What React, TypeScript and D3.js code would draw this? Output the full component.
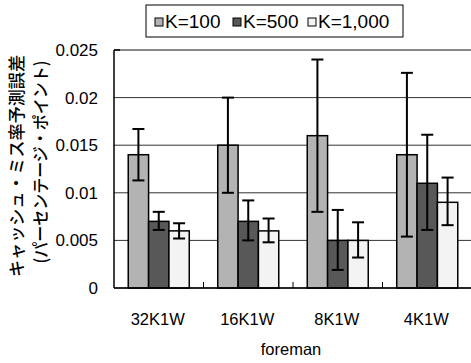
import React from "react";
import * as d3 from "d3";

const categories = ["32K1W", "16K1W", "8K1W", "4K1W"];
const seriesNames = ["K=100", "K=500", "K=1,000"];
const seriesColors = ["#b3b3b3", "#585858", "#f3f3f3"];
const valuesK100 = [0.014, 0.015, 0.016, 0.014];
const valuesK500 = [0.007, 0.007, 0.005, 0.011];
const valuesK1000 = [0.006, 0.006, 0.005, 0.009];
const errLowK100 = [0.0113, 0.01, 0.008, 0.0054];
const errHighK100 = [0.0167, 0.02, 0.024, 0.0226];
const errLowK500 = [0.0061, 0.005, 0.0019, 0.0061];
const errHighK500 = [0.008, 0.0092, 0.0082, 0.0161];
const errLowK1000 = [0.0052, 0.0048, 0.0032, 0.0066];
const errHighK1000 = [0.0068, 0.0073, 0.0069, 0.0116];
const yTicks = [0, 0.005, 0.01, 0.015, 0.02, 0.025];
const yTickLabels = ["0", "0.005", "0.01", "0.015", "0.02", "0.025"];

const W = 471, H = 363;
const left = 114, right = 472, top = 50, bottom = 288;

export default function App() {
  const x = d3.scaleBand().domain(categories).range([left, right]).paddingInner(0).paddingOuter(0);
  const inner = d3.scaleBand().domain(seriesNames).range([0, x.bandwidth()]).paddingInner(0).paddingOuter(0.7);
  const y = d3.scaleLinear().domain([0, 0.025]).range([bottom, top]);
  const vals = [valuesK100, valuesK500, valuesK1000];
  const lows = [errLowK100, errLowK500, errLowK1000];
  const highs = [errHighK100, errHighK500, errHighK1000];
  const font = "'Liberation Sans', Arial, sans-serif";
  const legendX = [155, 233, 308];
  return (
    <div style={{ position: "fixed", left: 0, top: 0 }}>
      <svg width={W} height={H} style={{ display: "block", background: "#fff" }}>
        {yTicks.map((t, i) => (
          <line key={"g" + i} x1={left} x2={right} y1={y(t)} y2={y(t)}
            stroke={t === 0.025 ? "#888" : "#333"} strokeWidth={t === 0.025 ? 2 : 1} />
        ))}
        <line x1={left} x2={left} y1={top} y2={bottom} stroke="#000" strokeWidth={1.5} />
        <line x1={left} x2={left + 6} y1={top} y2={top} stroke="#000" strokeWidth={1.5} />
        {yTicks.map((t, i) => (
          <text key={"yl" + i} x={98} y={y(t) + 6} textAnchor="end" fontFamily={font} fontSize={17} fill="#000">
            {yTickLabels[i]}
          </text>
        ))}
        {categories.slice(1).map((c) => (
          <line key={"xt" + c} x1={x(c)!} x2={x(c)!} y1={bottom} y2={bottom - 6} stroke="#000" strokeWidth={1} />
        ))}
        {categories.map((c, ci) =>
          seriesNames.map((s, si) => {
            const bx = x(c)! + inner(s)!;
            const bw = inner.bandwidth();
            const v = vals[si][ci];
            return (
              <rect key={c + s} x={bx} y={y(v)} width={bw} height={bottom - y(v)}
                fill={seriesColors[si]} stroke="#000" strokeWidth={1.5} />
            );
          })
        )}
        <line x1={left} x2={right} y1={bottom} y2={bottom} stroke="#000" strokeWidth={1.5} />
        {categories.map((c, ci) =>
          seriesNames.map((s, si) => {
            const cx = x(c)! + inner(s)! + inner.bandwidth() / 2;
            const lo = y(lows[si][ci]);
            const hi = y(highs[si][ci]);
            return (
              <g key={"e" + c + s} stroke="#000" strokeWidth={2}>
                <line x1={cx} x2={cx} y1={lo} y2={hi} />
                <line x1={cx - 6} x2={cx + 6} y1={lo} y2={lo} />
                <line x1={cx - 6} x2={cx + 6} y1={hi} y2={hi} />
              </g>
            );
          })
        )}
        {categories.map((c) => (
          <text key={"xl" + c} x={x(c)! + x.bandwidth() / 2 - 1} y={325} textAnchor="middle" fontFamily={font} fontSize={16.5} fill="#000">
            {c}
          </text>
        ))}
        <text x={291} y={355} textAnchor="middle" fontFamily={font} fontSize={16.5} fill="#000">foreman</text>
        <text transform="translate(23,166) rotate(-90)" textAnchor="middle" fontFamily="'Noto Sans CJK JP', sans-serif"
          fontSize={17} fontWeight={500} textLength={222} lengthAdjust="spacingAndGlyphs" fill="#000">
          キャッシュ・ミス率予測誤差
        </text>
        <text transform="translate(47,162) rotate(-90)" textAnchor="middle" fontFamily="'Noto Sans CJK JP', sans-serif"
          fontSize={17} fontWeight={500} textLength={203} lengthAdjust="spacingAndGlyphs" fill="#000">
          (パーセンテージ・ポイント)
        </text>
        <rect x={146} y={5} width={257} height={32} fill="#fff" stroke="#000" strokeWidth={1} />
        {seriesNames.map((s, i) => (
          <g key={"lg" + s}>
            <rect x={legendX[i]} y={18} width={8} height={8} fill={seriesColors[i]} stroke="#000" strokeWidth={1} />
            <text x={legendX[i] + 10} y={28} fontFamily={font} fontSize={19} fill="#000">{s}</text>
          </g>
        ))}
      </svg>
    </div>
  );
}
